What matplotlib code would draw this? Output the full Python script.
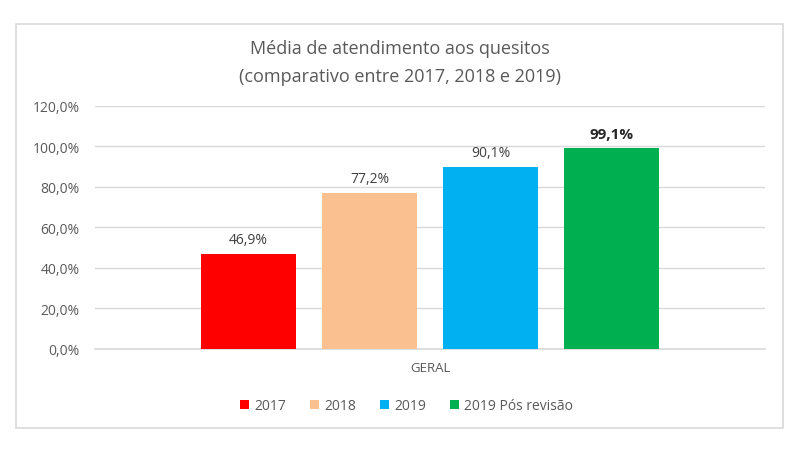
import matplotlib.pyplot as plt
from matplotlib.patches import Rectangle
from matplotlib.ticker import FuncFormatter

# Data
category = "GERAL"
series = ["2017", "2018", "2019", "2019 Pós revisão"]
values = [46.9, 77.2, 90.1, 99.1]
colors = ["#FF0000", "#FAC090", "#00B0F0", "#00B050"]
y_ticks = [0, 20, 40, 60, 80, 100, 120]

title = "Média de atendimento aos quesitos\n(comparativo entre 2017, 2018 e 2019)"
text_color = "#595959"
grid_color = "#D9D9D9"

plt.rcParams['font.family'] = ['Open Sans', 'DejaVu Sans']

fig = plt.figure(figsize=(8, 4.52), dpi=100)
ax = fig.add_axes([0.11875, 0.2257, 0.8375, 0.5376])

# chart area border
fig.patches.append(Rectangle((0.02, 0.0509), 0.95875, 0.8938, transform=fig.transFigure,
                             fill=False, edgecolor=grid_color, linewidth=1.2))

step = 0.1806
width = 0.1418
n = len(series)
for i, (name, val, col) in enumerate(zip(series, values, colors)):
    x = (i - (n - 1) / 2) * step
    ax.bar(x, val, width, color=col, label=name, zorder=3)
    label = f"{val:.1f}%".replace(".", ",")
    if i == n - 1:
        ax.annotate(label, xy=(x, val), xytext=(0, 5), textcoords="offset points",
                    ha='center', va='bottom', fontsize=11, fontweight='bold', color='#262626')
    else:
        ax.annotate(label, xy=(x, val), xytext=(0, 5), textcoords="offset points",
                    ha='center', va='bottom', fontsize=10, color='#404040')

ax.set_xlim(-0.5, 0.5)
ax.set_ylim(0, 120)
ax.set_yticks(y_ticks)
ax.yaxis.set_major_formatter(FuncFormatter(lambda v, p: f"{v:.1f}%".replace(".", ",")))
ax.set_xticks([0])
ax.set_xticklabels([category])
ax.tick_params(axis='y', length=0, pad=11, labelsize=10, labelcolor=text_color)
ax.tick_params(axis='x', length=0, pad=9, labelsize=9.5, labelcolor=text_color)
ax.grid(axis='y', color=grid_color, linewidth=1, zorder=0)
for side in ['top', 'right', 'left']:
    ax.spines[side].set_visible(False)
ax.spines['bottom'].set_color(grid_color)
ax.spines['bottom'].set_linewidth(1.2)

fig.text(0.5, 0.861, title, ha='center', va='center', fontsize=13,
         color=text_color, linespacing=1.7)

fig.legend(loc='center', bbox_to_anchor=(0.508, 0.1), ncol=4, frameon=False,
           fontsize=10, handlelength=0.7, handleheight=0.7, handletextpad=0.35,
           columnspacing=1.7, labelcolor=text_color)

fig.savefig("out.png", dpi=100)
